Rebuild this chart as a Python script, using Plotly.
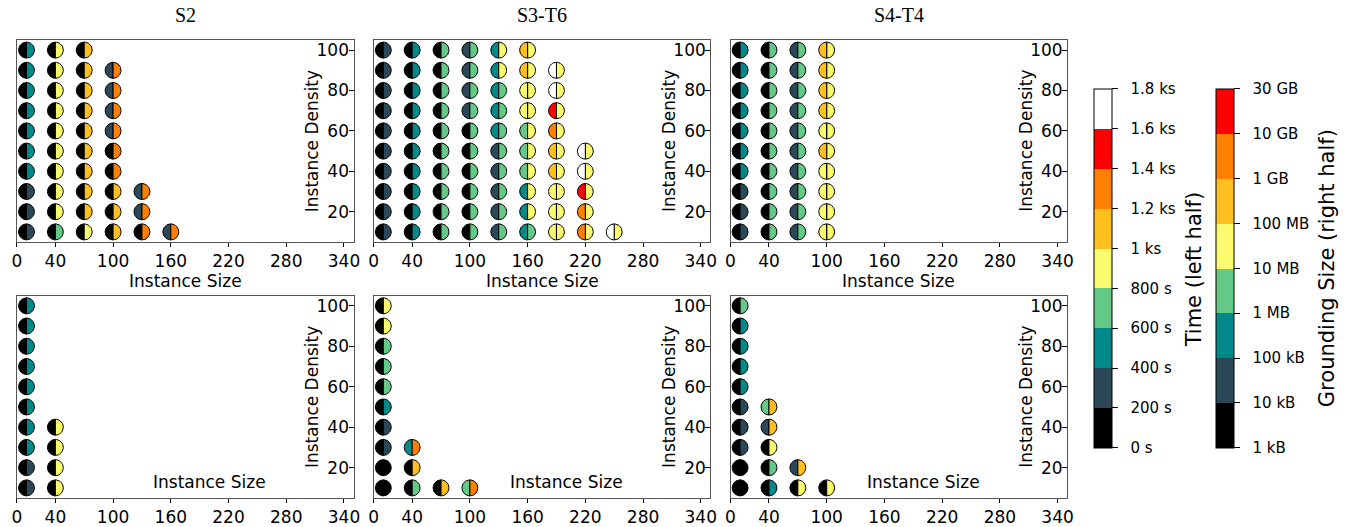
import numpy as np
import plotly.graph_objects as go

# ---------------- data ----------------
# time in seconds (left half colour), grounding size in bytes (right half colour)
SIZE_TICKS = [0, 40, 100, 160, 220, 280, 340]
DENSITY_TICKS = [20, 40, 60, 80, 100]
PANEL_TITLES = ["S2", "S3-T6", "S4-T4"]

# --- S2, top row ---
s2_top_size = [10, 10, 10, 10, 10, 10, 10, 10, 10, 10,
               40, 40, 40, 40, 40, 40, 40, 40, 40, 40,
               70, 70, 70, 70, 70, 70, 70, 70, 70, 70,
               100, 100, 100, 100, 100, 100, 100, 100, 100,
               130, 130, 130,
               160]
s2_top_density = [100, 90, 80, 70, 60, 50, 40, 30, 20, 10,
                  100, 90, 80, 70, 60, 50, 40, 30, 20, 10,
                  100, 90, 80, 70, 60, 50, 40, 30, 20, 10,
                  90, 80, 70, 60, 50, 40, 30, 20, 10,
                  30, 20, 10,
                  10]
s2_top_time = [100, 100, 100, 100, 100, 100, 100, 100, 100, 100,
               100, 100, 100, 100, 100, 100, 100, 100, 100, 100,
               100, 100, 100, 100, 100, 100, 100, 100, 100, 100,
               300, 300, 300, 300, 100, 100, 100, 100, 100,
               300, 300, 100,
               300]
s2_top_ground = [5e5, 5e5, 5e5, 5e5, 5e5, 5e5, 5e5, 5e4, 5e4, 5e4,
                 5e7, 5e7, 5e7, 5e7, 5e7, 5e7, 5e7, 5e7, 5e7, 5e6,
                 5e8, 5e8, 5e8, 5e8, 5e8, 5e8, 5e8, 5e8, 5e8, 5e7,
                 5e9, 5e9, 5e9, 5e9, 5e9, 5e9, 5e8, 5e8, 5e8,
                 5e9, 5e9, 5e9,
                 5e9]

# --- S3-T6, top row ---
s3_top_size = [10, 10, 10, 10, 10, 10, 10, 10, 10, 10,
               40, 40, 40, 40, 40, 40, 40, 40, 40, 40,
               70, 70, 70, 70, 70, 70, 70, 70, 70, 70,
               100, 100, 100, 100, 100, 100, 100, 100, 100, 100,
               130, 130, 130, 130, 130, 130, 130, 130, 130, 130,
               160, 160, 160, 160, 160, 160, 160, 160, 160, 160,
               190, 190, 190, 190, 190, 190, 190, 190, 190,
               220, 220, 220, 220, 220,
               250]
s3_top_density = [100, 90, 80, 70, 60, 50, 40, 30, 20, 10,
                  100, 90, 80, 70, 60, 50, 40, 30, 20, 10,
                  100, 90, 80, 70, 60, 50, 40, 30, 20, 10,
                  100, 90, 80, 70, 60, 50, 40, 30, 20, 10,
                  100, 90, 80, 70, 60, 50, 40, 30, 20, 10,
                  100, 90, 80, 70, 60, 50, 40, 30, 20, 10,
                  90, 80, 70, 60, 50, 40, 30, 20, 10,
                  50, 40, 30, 20, 10,
                  10]
s3_top_time = [100, 100, 100, 100, 100, 100, 100, 100, 100, 100,
               100, 100, 100, 100, 100, 100, 100, 100, 100, 100,
               100, 100, 100, 100, 100, 100, 100, 100, 100, 100,
               300, 300, 300, 300, 100, 100, 100, 100, 100, 100,
               500, 500, 500, 500, 500, 300, 300, 300, 300, 300,
               1100, 1100, 900, 900, 700, 700, 700, 500, 500, 500,
               1700, 1700, 1500, 1300, 1100, 1100, 900, 900, 900,
               1700, 1700, 1500, 1300, 1300,
               1700]
s3_top_ground = [5e4, 5e4, 5e4, 5e4, 5e4, 5e4, 5e4, 5e4, 5e4, 5e4,
                 5e5, 5e5, 5e5, 5e5, 5e5, 5e5, 5e5, 5e5, 5e5, 5e5,
                 5e6, 5e6, 5e6, 5e6, 5e6, 5e6, 5e6, 5e6, 5e6, 5e6,
                 5e6, 5e6, 5e6, 5e6, 5e6, 5e6, 5e6, 5e6, 5e6, 5e6,
                 5e7, 5e7, 5e6, 5e6, 5e6, 5e6, 5e6, 5e6, 5e6, 5e6,
                 5e7, 5e7, 5e7, 5e7, 5e7, 5e7, 5e7, 5e7, 5e7, 5e6,
                 5e7, 5e7, 5e7, 5e7, 5e7, 5e7, 5e7, 5e7, 5e7,
                 5e7, 5e7, 5e7, 5e7, 5e7,
                 5e7]

# --- S4-T4, top row ---
s4_top_size = [10, 10, 10, 10, 10, 10, 10, 10, 10, 10,
               40, 40, 40, 40, 40, 40, 40, 40, 40, 40,
               70, 70, 70, 70, 70, 70, 70, 70, 70, 70,
               100, 100, 100, 100, 100, 100, 100, 100, 100, 100]
s4_top_density = [100, 90, 80, 70, 60, 50, 40, 30, 20, 10,
                  100, 90, 80, 70, 60, 50, 40, 30, 20, 10,
                  100, 90, 80, 70, 60, 50, 40, 30, 20, 10,
                  100, 90, 80, 70, 60, 50, 40, 30, 20, 10]
s4_top_time = [100, 100, 100, 100, 100, 100, 100, 100, 100, 100,
               100, 100, 100, 100, 100, 100, 100, 100, 100, 100,
               300, 300, 300, 300, 300, 300, 300, 300, 300, 300,
               1100, 1100, 1100, 1100, 900, 1100, 900, 900, 900, 900]
s4_top_ground = [5e5, 5e5, 5e5, 5e5, 5e5, 5e5, 5e5, 5e4, 5e4, 5e4,
                 5e6, 5e6, 5e6, 5e6, 5e6, 5e6, 5e6, 5e6, 5e6, 5e6,
                 5e6, 5e6, 5e6, 5e6, 5e6, 5e6, 5e6, 5e6, 5e6, 5e6,
                 5e7, 5e7, 5e7, 5e7, 5e7, 5e7, 5e7, 5e7, 5e7, 5e7]

# --- S2, bottom row ---
s2_bot_size = [10, 10, 10, 10, 10, 10, 10, 10, 10, 10,
               40, 40, 40, 40]
s2_bot_density = [100, 90, 80, 70, 60, 50, 40, 30, 20, 10,
                  40, 30, 20, 10]
s2_bot_time = [100, 100, 100, 100, 100, 100, 100, 100, 100, 100,
               100, 100, 100, 100]
s2_bot_ground = [5e5, 5e5, 5e5, 5e5, 5e5, 5e5, 5e5, 5e5, 5e4, 5e4,
                 5e7, 5e7, 5e7, 5e7]

# --- S3-T6, bottom row ---
s3_bot_size = [10, 10, 10, 10, 10, 10, 10, 10, 10, 10,
               40, 40, 40,
               70,
               100]
s3_bot_density = [100, 90, 80, 70, 60, 50, 40, 30, 20, 10,
                  30, 20, 10,
                  10,
                  10]
s3_bot_time = [100, 100, 100, 100, 100, 100, 100, 100, 100, 100,
               500, 100, 100,
               100,
               700]
s3_bot_ground = [5e7, 5e7, 5e6, 5e6, 5e6, 5e5, 5e4, 5e4, 5e3, 5e3,
                 5e9, 5e8, 5e6,
                 5e8,
                 5e9]

# --- S4-T4, bottom row ---
s4_bot_size = [10, 10, 10, 10, 10, 10, 10, 10, 10, 10,
               40, 40, 40, 40, 40,
               70, 70,
               100]
s4_bot_density = [100, 90, 80, 70, 60, 50, 40, 30, 20, 10,
                  50, 40, 30, 20, 10,
                  20, 10,
                  10]
s4_bot_time = [100, 100, 100, 100, 100, 100, 100, 100, 100, 100,
               700, 300, 100, 100, 100,
               300, 100,
               100]
s4_bot_ground = [5e6, 5e5, 5e5, 5e5, 5e5, 5e4, 5e4, 5e4, 5e3, 5e3,
                 5e8, 5e8, 5e7, 5e6, 5e5,
                 5e8, 5e7,
                 5e7]

# colour bins
TIME_EDGES = [0, 200, 400, 600, 800, 1000, 1200, 1400, 1600, 1800]
TIME_LABELS = ["0 s", "200 s", "400 s", "600 s", "800 s", "1 ks",
               "1.2 ks", "1.4 ks", "1.6 ks", "1.8 ks"]
GROUND_EDGES = [1e3, 1e4, 1e5, 1e6, 1e7, 1e8, 1e9, 1e10, 3e10]
GROUND_LABELS = ["1 kB", "10 kB", "100 kB", "1 MB", "10 MB", "100 MB",
                 "1 GB", "10 GB", "30 GB"]
PALETTE = ["#000000", "#2a4858", "#00898a", "#64c987", "#fafa6e",
           "#ffbf1f", "#ff7f00", "#ff0000", "#ffffff"]

panels = [
    (s2_top_size, s2_top_density, s2_top_time, s2_top_ground),
    (s3_top_size, s3_top_density, s3_top_time, s3_top_ground),
    (s4_top_size, s4_top_density, s4_top_time, s4_top_ground),
    (s2_bot_size, s2_bot_density, s2_bot_time, s2_bot_ground),
    (s3_bot_size, s3_bot_density, s3_bot_time, s3_bot_ground),
    (s4_bot_size, s4_bot_density, s4_bot_time, s4_bot_ground),
]

# ---------------- layout geometry ----------------
W, H = 1352, 527
COL_PX = [(12, 351.7), (372, 711.7), (732, 1071.7)]
ROW_PX = [(40, 242), (295.7, 498)]
XR = [0, 350]
YR = [5, 105]
R_PX = 8.0
FONT = "DejaVu Sans"
TICKFONT = dict(family=FONT, size=17, color="black")


def bin_index(v, edges):
    i = int(np.searchsorted(edges, v, side="right")) - 1
    return max(0, min(i, len(edges) - 2))


fig = go.Figure()
annotations = []

for p, (xs, ys, ts, gs) in enumerate(panels):
    row, col = divmod(p, 3)
    l, r = COL_PX[col]
    t, b = ROW_PX[row]
    kx = (r - l) / (XR[1] - XR[0])
    ky = (b - t) / (YR[1] - YR[0])
    rx, ry = R_PX / kx, R_PX / ky
    ax = "" if p == 0 else str(p + 1)
    tw = str(p + 7)
    polys = {}
    th_left = np.linspace(np.pi / 2, 3 * np.pi / 2, 25)
    th_right = np.linspace(-np.pi / 2, np.pi / 2, 25)
    for cx, cy, tv, gv in zip(xs, ys, ts, gs):
        for th, ci in ((th_left, bin_index(tv, TIME_EDGES)),
                       (th_right, bin_index(gv, GROUND_EDGES))):
            px = list(cx + rx * np.cos(th)) + [cx + rx * np.cos(th[0]), None]
            py = list(cy + ry * np.sin(th)) + [cy + ry * np.sin(th[0]), None]
            d = polys.setdefault(ci, ([], []))
            d[0].extend(px)
            d[1].extend(py)
    for ci, (px, py) in sorted(polys.items()):
        fig.add_trace(go.Scatter(
            x=px, y=py, mode="lines", fill="toself", fillcolor=PALETTE[ci],
            line=dict(color="black", width=1), hoverinfo="skip",
            showlegend=False, xaxis="x" + ax, yaxis="y" + ax))

    xd = [l / W, r / W]
    yd = [1 - b / H, 1 - t / H]
    # frame axis (no x labels)
    fig.layout["xaxis" + ax] = dict(
        domain=xd, range=XR, anchor="y" + ax, tickvals=SIZE_TICKS,
        ticks="", showticklabels=False, showline=True,
        mirror=True, linecolor="#555", linewidth=1, showgrid=False,
        zeroline=False)
    fig.layout["yaxis" + ax] = dict(
        domain=yd, range=YR, anchor="x" + ax, side="right",
        tickvals=DENSITY_TICKS, ticks="inside", ticklen=5, tickcolor="black",
        ticklabelposition="inside", showline=True, mirror=True,
        linecolor="#555", linewidth=1, showgrid=False, zeroline=False,
        tickfont=TICKFONT)
    # twin subplot carrying the x ticks and labels
    fig.layout["xaxis" + tw] = dict(
        domain=xd, range=XR, anchor="y" + tw, side="bottom",
        tickvals=SIZE_TICKS, ticks="outside", ticklen=4,
        tickcolor="black", showline=False, showgrid=False, zeroline=False,
        ticklabeloverflow="allow", tickfont=TICKFONT)
    fig.layout["yaxis" + tw] = dict(
        domain=yd, range=YR, anchor="x" + tw, visible=False,
        showgrid=False, zeroline=False)
    fig.add_trace(go.Scatter(
        x=[xs[0]], y=[ys[0]], mode="markers", marker=dict(opacity=0),
        hoverinfo="skip", showlegend=False,
        xaxis="x" + tw, yaxis="y" + tw))

    annotations.append(dict(
        text="Instance Density", xref="paper", yref="paper",
        x=(r - 41.7) / W, y=1 - (t + b) / 2 / H, textangle=-90,
        showarrow=False, font=dict(family=FONT, size=17, color="black"),
        xanchor="center", yanchor="middle"))
    if row == 0:
        annotations.append(dict(
            text=PANEL_TITLES[col], xref="paper", yref="paper",
            x=(l + r) / 2 / W, y=1 - 15 / H, showarrow=False,
            font=dict(family="Liberation Serif", size=20, color="black"),
            xanchor="center", yanchor="middle"))
        annotations.append(dict(
            text="Instance Size", xref="paper", yref="paper",
            x=(l + r) / 2 / W, y=1 - 281 / H, showarrow=False,
            font=dict(family=FONT, size=17, color="black"),
            xanchor="center", yanchor="middle"))
    else:
        annotations.append(dict(
            text="Instance Size", xref="paper", yref="paper",
            x=(l + 194.7) / W, y=1 - 481.7 / H, showarrow=False,
            font=dict(family=FONT, size=17, color="black"),
            xanchor="center", yanchor="middle"))


def discrete_scale(colors):
    n = len(colors)
    sc = []
    for i, c in enumerate(colors):
        sc.append([i / n, c])
        sc.append([(i + 1) / n, c])
    return sc


PAD = "\u00a0\u00a0"
CB_TOP, CB_BOT = 89, 447.7
cb_common = dict(
    thickness=18, len=CB_BOT - CB_TOP, lenmode="pixels",
    y=1 - (CB_TOP + CB_BOT) / 2 / H, yanchor="middle", xanchor="left",
    xpad=0, ypad=0, outlinewidth=1, outlinecolor="black",
    ticks="outside", ticklen=6, tickcolor="black",
    tickfont=dict(family=FONT, size=15, color="black"))

fig.add_trace(go.Scatter(
    x=[s2_top_size[0]], y=[s2_top_density[0]], mode="markers",
    marker=dict(color=[s2_top_time[0]], cmin=TIME_EDGES[0],
                cmax=TIME_EDGES[-1], colorscale=discrete_scale(PALETTE),
                showscale=True, opacity=0,
                colorbar=dict(x=1099 / W, tickvals=TIME_EDGES,
                              ticktext=[PAD + s for s in TIME_LABELS],
                              **cb_common)),
    hoverinfo="skip", showlegend=False))

g_idx = list(range(len(GROUND_EDGES)))
fig.add_trace(go.Scatter(
    x=[s2_top_size[0]], y=[s2_top_density[0]], mode="markers",
    marker=dict(color=[0], cmin=g_idx[0], cmax=g_idx[-1],
                colorscale=discrete_scale(PALETTE[:8]),
                showscale=True, opacity=0,
                colorbar=dict(x=1221.7 / W, tickvals=g_idx,
                              ticktext=[PAD + s for s in GROUND_LABELS],
                              **cb_common)),
    hoverinfo="skip", showlegend=False))

annotations.append(dict(
    text="Time (left half)", xref="paper", yref="paper", x=1200 / W,
    y=1 - 269 / H, textangle=-90, showarrow=False,
    font=dict(family=FONT, size=21, color="black"),
    xanchor="center", yanchor="middle"))
annotations.append(dict(
    text="Grounding Size (right half)", xref="paper", yref="paper",
    x=1334 / W, y=1 - 268 / H, textangle=-90, showarrow=False,
    font=dict(family=FONT, size=21, color="black"),
    xanchor="center", yanchor="middle"))

fig.update_layout(
    width=W, height=H, autosize=False,
    margin=dict(l=0, r=0, t=0, b=0),
    paper_bgcolor="white", plot_bgcolor="rgba(0,0,0,0)",
    annotations=annotations, showlegend=False)

fig.write_html("out.html")
